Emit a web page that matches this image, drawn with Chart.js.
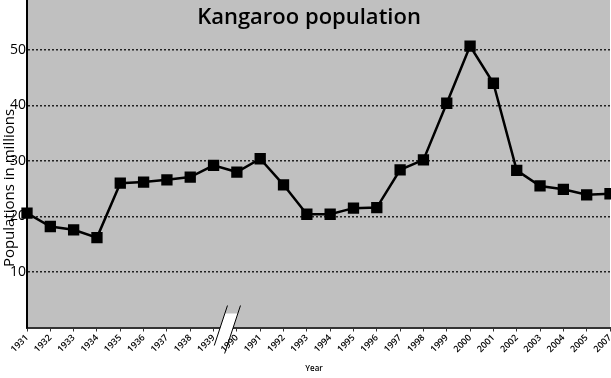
<!DOCTYPE html>
<html>
<head>
<meta charset="utf-8">
<script src="https://cdn.jsdelivr.net/npm/chart.js@4"></script>
<style>
  html, body { margin: 0; padding: 0; background: #fff; }
  #wrap { width: 611px; height: 378px; }
</style>
</head>
<body>
<div id="wrap"><canvas id="chart" width="611" height="378"></canvas></div>
<script>
// Kangaroo population, millions (axis broken between 1939 and 1990, no 2006)
const years = ['1931', '1932', '1933', '1934', '1935', '1936', '1937', '1938', '1939',
    '1990', '1991', '1992', '1993', '1994', '1995', '1996', '1997', '1998', '1999',
    '2000', '2001', '2002', '2003', '2004', '2005', '2007'];
const population = [20.6, 18.2, 17.6, 16.2, 26.0, 26.2, 26.6, 27.1, 29.2,
    28.0, 30.4, 25.7, 20.4, 20.4, 21.5, 21.6, 28.4, 30.2, 40.4,
    50.7, 44.0, 28.3, 25.5, 24.9, 23.9, 24.1];
const yTicks = [10, 20, 30, 40, 50];
const breakAfter = 8; // index of 1939

const plotBg = {
    id: 'plotBg',
    beforeDraw(chart) {
        const { ctx, chartArea: a } = chart;
        ctx.save();
        ctx.fillStyle = '#c0c0c0';
        ctx.fillRect(a.left, a.top, a.right - a.left, a.bottom - a.top);
        ctx.restore();
    }
};

const extras = {
    id: 'extras',
    afterDraw(chart) {
        const { ctx, chartArea: a, scales } = chart;
        ctx.save();

        // y axis line, solid (grid dash would otherwise apply)
        ctx.strokeStyle = '#000';
        ctx.lineWidth = 2;
        ctx.beginPath();
        ctx.moveTo(a.left, 0);
        ctx.lineTo(a.left, a.bottom);
        ctx.stroke();

        // title over the plot area
        ctx.fillStyle = '#000';
        ctx.font = '600 22px "Open Sans"';
        ctx.textAlign = 'center';
        ctx.textBaseline = 'alphabetic';
        ctx.fillText('Kangaroo population', 309, 24);

        // y axis title (overlaps tick labels like the original)
        ctx.save();
        ctx.translate(10, 188);
        ctx.rotate(-Math.PI / 2);
        ctx.font = '15px "Open Sans"';
        ctx.textBaseline = 'middle';
        ctx.fillText('Populations in millions', 0, 0);
        ctx.restore();

        // x axis title
        ctx.font = '600 8px "Open Sans"';
        ctx.textBaseline = 'middle';
        ctx.fillText('Year', 314, 369);

        // axis break mark
        const mid = (scales.x.getPixelForValue(breakAfter) + scales.x.getPixelForValue(breakAfter + 1)) / 2;
        const y0 = a.bottom;
        const k = 0.33;
        const l1 = y => mid - 5 - k * (y - y0);
        const l2 = y => mid + 8 - k * (y - y0);
        ctx.fillStyle = '#fff';
        ctx.beginPath();
        ctx.moveTo(l1(y0 - 14), y0 - 14);
        ctx.lineTo(l2(y0 - 14), y0 - 14);
        ctx.lineTo(l2(y0 + 4), y0 + 4);
        ctx.lineTo(l1(y0 + 4), y0 + 4);
        ctx.closePath();
        ctx.fill();
        ctx.strokeStyle = '#000';
        ctx.lineWidth = 1;
        ctx.beginPath();
        ctx.moveTo(l1(y0 - 22), y0 - 22);
        ctx.lineTo(l1(y0 + 18), y0 + 18);
        ctx.moveTo(l2(y0 - 22), y0 - 22);
        ctx.lineTo(l2(y0 + 26), y0 + 26);
        ctx.stroke();

        ctx.restore();
    }
};

new Chart(document.getElementById('chart').getContext('2d'), {
    type: 'line',
    data: {
        labels: years,
        datasets: [{
            label: 'Population',
            data: population,
            borderColor: '#000',
            backgroundColor: '#000',
            borderWidth: 2.5,
            tension: 0,
            pointStyle: 'rect',
            pointRadius: 8,
            pointBorderWidth: 0,
            pointBackgroundColor: '#000'
        }]
    },
    options: {
        responsive: false,
        animation: false,
        layout: { autoPadding: false, padding: { top: 0, right: 1, bottom: 0, left: 0 } },
        plugins: {
            legend: { display: false },
            tooltip: { enabled: false },
            title: { display: false }
        },
        scales: {
            x: {
                offset: false,
                border: { color: '#333', width: 2 },
                grid: { drawOnChartArea: false, drawTicks: true, tickLength: 4, color: '#333' },
                ticks: {
                    color: '#000',
                    font: { family: 'Open Sans', size: 9, weight: '600' },
                    minRotation: 45,
                    maxRotation: 45,
                    autoSkip: false,
                    padding: 1
                },
                afterFit(scale) {
                    scale.height = 50.5;
                    scale.paddingLeft = 0;
                    scale.paddingRight = 0;
                }
            },
            y: {
                min: 0,
                max: 59,
                border: { color: '#000', width: 2, dash: [2, 2] },
                grid: { color: '#222', lineWidth: 1.5, drawTicks: false },
                ticks: {
                    color: '#000',
                    font: { family: 'Open Sans', size: 14 },
                    padding: 1
                },
                afterBuildTicks(scale) {
                    scale.ticks = yTicks.map(v => ({ value: v }));
                },
                afterFit(scale) {
                    scale.width = 27;
                    scale.paddingTop = 0;
                    scale.paddingBottom = 0;
                }
            }
        }
    },
    plugins: [plotBg, extras]
});
</script>
</body>
</html>
